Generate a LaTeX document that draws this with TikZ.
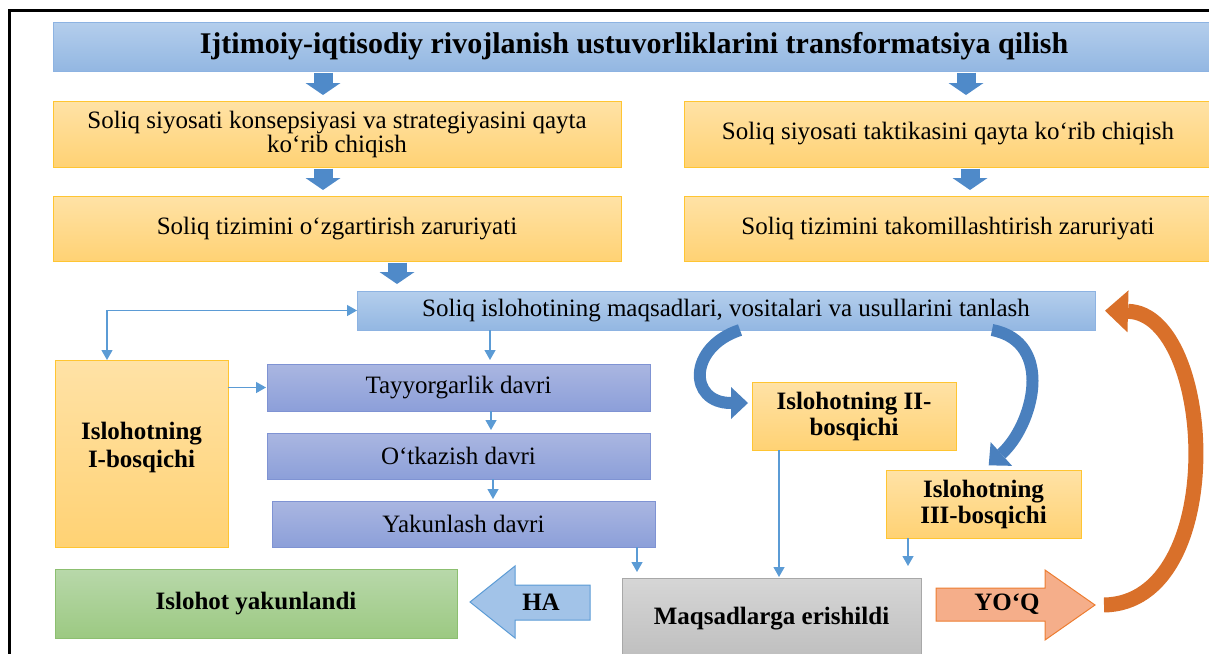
\documentclass[tikz,border=0pt]{standalone}
\usepackage{fontspec}
\setmainfont{Liberation Serif}
\usetikzlibrary{arrows.meta,calc}
\definecolor{blueTop}{HTML}{B4CEEC}
\definecolor{blueBot}{HTML}{93B7E2}
\definecolor{blueLine}{HTML}{8DB3E2}
\definecolor{orangeTop}{HTML}{FFE2A6}
\definecolor{orangeBot}{HTML}{FFD274}
\definecolor{orangeLine}{HTML}{FFC532}
\definecolor{stageTop}{HTML}{AAB6E1}
\definecolor{stageBot}{HTML}{8C9FD9}
\definecolor{stageLine}{HTML}{7F93D3}
\definecolor{greenTop}{HTML}{B8D8AA}
\definecolor{greenBot}{HTML}{9CC982}
\definecolor{greenLine}{HTML}{8CBF70}
\definecolor{greyTop}{HTML}{D6D6D6}
\definecolor{greyBot}{HTML}{BEBEBE}
\definecolor{greyLine}{HTML}{A8A8A8}
\definecolor{arrowBlue}{HTML}{4F8AC9}
\definecolor{curveBlue}{HTML}{4A80BE}
\definecolor{thinBlue}{HTML}{5B9BD5}
\definecolor{haFill}{HTML}{A2C3E8}
\definecolor{yoqFill}{HTML}{F5AE8A}
\definecolor{yoqLine}{HTML}{ED7D31}
\definecolor{loopOrange}{HTML}{D9702A}
\newcommand{\boxfont}{\fontsize{25}{24}\selectfont}
\newcommand{\boldfont}{\bfseries\fontsize{25}{26}\selectfont}
\tikzstyle{box}=[rectangle,draw,line width=1pt,inner sep=0pt,outer sep=0pt,align=center,font=\boxfont]
\tikzstyle{bluebox}=[box,draw=blueLine,top color=blueTop,bottom color=blueBot]
\tikzstyle{orangebox}=[box,draw=orangeLine,top color=orangeTop,bottom color=orangeBot]
\tikzstyle{stagebox}=[box,draw=stageLine,top color=stageTop,bottom color=stageBot]
\tikzstyle{greenbox}=[box,draw=greenLine,top color=greenTop,bottom color=greenBot,font=\boldfont]
\tikzstyle{greybox}=[box,draw=greyLine,top color=greyTop,bottom color=greyBot,font=\boldfont]
\tikzstyle{thinarrow}=[draw=thinBlue,line width=1.3pt,-{Triangle[length=10pt,width=11pt]},thinBlue]
\tikzstyle{blockdown}=[draw=arrowBlue,line width=19pt,-{Triangle[length=12pt,width=35pt,line width=0pt]},arrowBlue]
\tikzstyle{bluecurve}=[draw=curveBlue,line width=12pt,-{Triangle[length=17pt,width=32pt,line width=0pt]},curveBlue]
\tikzstyle{orangecurve}=[draw=loopOrange,line width=15pt,-{Triangle[length=23pt,width=42pt,line width=0pt]},loopOrange]
\tikzstyle{blockarrow}=[line width=1pt]
\begin{document}
\begin{tikzpicture}[x=1pt,y=-1pt]
\useasboundingbox (0,0) rectangle (1209,653);

% frame
\draw[line width=3pt] (9,680) |- (1230,10);

% boxes
\node[bluebox,font=\bfseries\fontsize{30}{32}\selectfont,minimum width=1162pt,minimum height=49pt] (T0) at (634,46.5) {Ijtimoiy-iqtisodiy rivojlanish ustuvorliklarini transformatsiya qilish};
\node[orangebox,minimum width=568pt,minimum height=66pt] (A) at (337,134) {Soliq siyosati konsepsiyasi va strategiyasini qayta\\ko‘rib chiqish};
\node[orangebox,minimum width=528pt,minimum height=66pt] (B) at (948,134) {Soliq siyosati taktikasini qayta ko‘rib chiqish};
\node[orangebox,minimum width=568pt,minimum height=65pt] (C) at (337,228.5) {Soliq tizimini o‘zgartirish zaruriyati};
\node[orangebox,minimum width=528pt,minimum height=65pt] (D) at (948,228.5) {Soliq tizimini takomillashtirish zaruriyati};
\node[bluebox,minimum width=738pt,minimum height=39pt] (E) at (726,310.5) {Soliq islohotining maqsadlari, vositalari va usullarini tanlash};

\node[orangebox,font=\boldfont,minimum width=173pt,minimum height=187pt] (I1) at (141.5,453.5) {Islohotning\\[2pt]I-bosqichi\\[-8pt]\mbox{}};
\node[stagebox,minimum width=383pt,minimum height=47pt] (Tay) at (458.5,387.5) {Tayyorgarlik davri};
\node[stagebox,minimum width=383pt,minimum height=46pt] (Otk) at (458.5,456) {O‘tkazish davri};
\node[stagebox,minimum width=383pt,minimum height=46pt] (Yak) at (463.5,524) {Yakunlash davri};
\node[orangebox,font=\boldfont,minimum width=204pt,minimum height=68pt] (II) at (854,416) {Islohotning II-\\bosqichi};
\node[orangebox,font=\boldfont,minimum width=195pt,minimum height=68pt] (III) at (983.5,504) {Islohotning\\III-bosqichi};

\node[greybox,minimum width=299pt,minimum height=82pt] (M) at (771.5,619) {Maqsadlarga erishildi};
\node[greenbox,minimum width=402pt,minimum height=69pt] (G) at (256,603.5) {Islohot yakunlandi};

% HA / YO'Q block arrows
\filldraw[blockarrow,draw=thinBlue,fill=haFill] (590,585) -- (515,585) -- (515,566) -- (470,602) -- (515,638) -- (515,620) -- (590,620) -- cycle;
\node[font=\boldfont] (ha) at (541,602) {HA};
\filldraw[blockarrow,draw=yoqLine,fill=yoqFill] (936,588) -- (1045,588) -- (1045,570) -- (1095,605) coordinate (yoqtip) -- (1045,640) -- (1045,621) -- (936,621) -- cycle;
\node[font=\boldfont] (yoq) at (1007,604) {YO‘Q};

% thick arrows between the upper boxes
\foreach \x/\source/\dest/\gap in {323/T0/A/6, 966/T0/B/6, 323/A/C/6, 970/B/D/6, 397/C/E/7}
    \draw[blockdown,shorten <=1.5pt,shorten >=\gap pt] (\x,0 |- \source.south) -- (\x,0 |- \dest.north);

% thin arrows
\draw[thinarrow,{Triangle[length=10pt,width=11pt]}-{Triangle[length=10pt,width=11pt]}] (107,0 |- I1.north) |- (E.west);
\draw[thinarrow,shorten >=1pt] (I1.east |- Tay.west) -- (Tay.west);
\foreach \x/\source/\dest/\gap in {490/E/Tay/4, 491/Tay/Otk/3, 493/Otk/Yak/2, 637/Yak/M/6, 779/II/M/1, 908/III/M/12}
    \draw[thinarrow,shorten >=\gap pt] (\x,0 |- \source.south) -- (\x,0 |- \dest.north);

% curved arrows
\draw[bluecurve,shorten >=4pt] (740,0 |- E.south) .. controls +(-52,17) and +(-64,0) .. ([yshift=13pt]II.west);
\draw[bluecurve,shorten >=7pt] (992,0 |- E.south) .. controls +(63,12) and +(50,-45) .. (III.north);
\draw[orangecurve,shorten >=10pt] ([xshift=9pt]yoqtip) .. controls +(126,-2) and +(120,3) .. (E.east);

\end{tikzpicture}
\end{document}
